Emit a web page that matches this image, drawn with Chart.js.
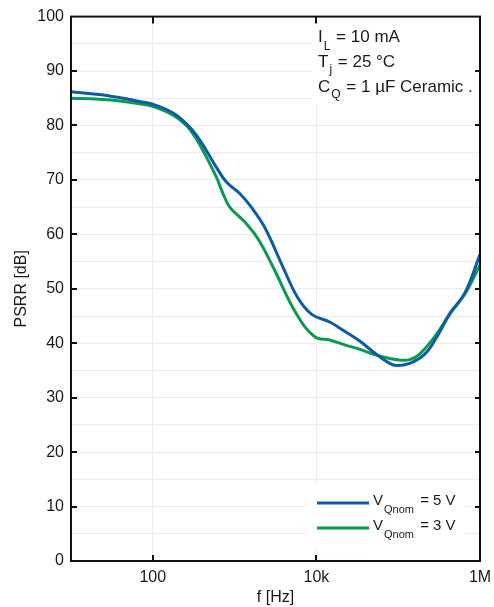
<!DOCTYPE html>
<html>
<head>
<meta charset="utf-8">
<title>PSRR vs frequency</title>
<script src="https://cdn.jsdelivr.net/npm/chart.js@4.4.1/dist/chart.umd.min.js"></script>
<style>
	html, body { margin: 0; padding: 0; background: #fff; }
	#wrap { width: 494px; height: 607px; }
</style>
</head>
<body>
<div id="wrap"><canvas id="chart" width="494" height="607"></canvas></div>
<script>
// V_Qnom = 5 V curve
const freq5V = [10, 22, 40, 69, 100, 177, 258, 342, 452, 599, 795, 1155, 1600, 2330, 3900, 5900, 8770, 14550, 22180, 33840, 51600, 78700, 95900, 138300, 211000, 295700, 426500, 650600, 1000000];
const psrr5V = [86.2, 85.7, 85.1, 84.4, 83.9, 82.3, 80.3, 78.2, 75.4, 72.3, 69.6, 67.5, 65.0, 61.3, 54.0, 48.4, 45.3, 43.9, 42.2, 40.4, 38.2, 36.3, 35.9, 36.3, 38.0, 41.1, 45.4, 49.2, 56.3];

// V_Qnom = 3 V curve
const freq3V = [10, 22, 40, 69, 100, 177, 258, 342, 452, 599, 721, 871, 1150, 1330, 1930, 2950, 5690, 9530, 14550, 22180, 33840, 51600, 78700, 104200, 138300, 183000, 295700, 426500, 650600, 1000000];
const psrr3V = [85.0, 84.8, 84.5, 84.0, 83.5, 81.9, 80.0, 77.5, 74.2, 70.5, 67.5, 65.0, 63.2, 62.3, 59.2, 54.0, 45.4, 41.2, 40.6, 39.7, 38.9, 37.9, 37.2, 36.9, 37.0, 38.0, 41.7, 45.4, 49.0, 54.4];

const xTickValues = [100, 10000, 1000000];
const xTickLabels = ['100', '10k', '1M'];
const yMajorTicks = [10, 20, 30, 40, 50, 60, 70, 80, 90];

const COLOR_5V = '#0c5ba8';
const COLOR_3V = '#0a9a50';
const FONT = '"Liberation Sans", Arial, sans-serif';
const TEXT_COLOR = '#1a1a1a';

function toPoints(xs, ys)
{
	return xs.map((x, i) => ({x: x, y: ys[i]}));
}

// text with a subscript part: main + sub + rest
function drawSubText(ctx, x, y, main, sub, rest, size, subSize, subDrop, gap)
{
	ctx.font = size + 'px ' + FONT;
	ctx.fillText(main, x, y);
	let w = ctx.measureText(main).width + 1;
	ctx.font = subSize + 'px ' + FONT;
	ctx.fillText(sub, x + w, y + subDrop);
	w += ctx.measureText(sub).width + gap;
	ctx.font = size + 'px ' + FONT;
	ctx.fillText(rest, x + w, y);
}

const framePlugin = {
	id: 'frame',
	beforeDatasetsDraw(chart)
	{
		const ctx = chart.ctx;
		ctx.save();
		ctx.fillStyle = '#fff';
		// boxes behind the notes and the legend
		ctx.fillRect(312, 17, 167, 88);
		ctx.fillRect(307, 483, 158, 66);
		ctx.restore();
	},
	afterDraw(chart)
	{
		const ctx = chart.ctx;
		const a = chart.chartArea;
		const xs = chart.scales.x;
		const ys = chart.scales.y;

		ctx.save();
		ctx.strokeStyle = '#111';
		ctx.lineWidth = 2;
		ctx.strokeRect(a.left, a.top, a.right - a.left, a.bottom - a.top);

		// inward tick marks
		ctx.beginPath();
		yMajorTicks.forEach(v => {
			const py = Math.round(ys.getPixelForValue(v));
			ctx.moveTo(a.left, py);
			ctx.lineTo(a.left + 6, py);
			ctx.moveTo(a.right, py);
			ctx.lineTo(a.right - 5, py);
		});
		[100, 10000].forEach(v => {
			const px = Math.round(xs.getPixelForValue(v));
			ctx.moveTo(px, a.bottom);
			ctx.lineTo(px, a.bottom - 6);
			ctx.moveTo(px, a.top);
			ctx.lineTo(px, a.top + 7);
		});
		ctx.stroke();

		// notes, top right
		ctx.fillStyle = TEXT_COLOR;
		ctx.textBaseline = 'alphabetic';
		ctx.textAlign = 'left';
		drawSubText(ctx, 318, 42, 'I', 'L', ' = 10 mA', 17, 12, 8, 1);
		drawSubText(ctx, 318, 67, 'T', 'j', ' = 25 °C', 17, 12, 6, 1);
		drawSubText(ctx, 318, 92, 'C', 'Q', ' = 1 µF Ceramic .', 17, 12, 6, 1);

		// legend
		const legendRows = [
			{color: COLOR_5V, y: 503, text: ' = 5 V'},
			{color: COLOR_3V, y: 528, text: ' = 3 V'},
		];
		legendRows.forEach(row => {
			ctx.strokeStyle = row.color;
			ctx.lineWidth = 3;
			ctx.beginPath();
			ctx.moveTo(317, row.y);
			ctx.lineTo(369, row.y);
			ctx.stroke();
			ctx.fillStyle = TEXT_COLOR;
			drawSubText(ctx, 373, row.y + 1.5, 'V', 'Qnom', row.text, 15, 11, 8.5, 2);
		});
		ctx.restore();
	}
};

Chart.defaults.font.family = FONT;
Chart.defaults.font.size = 16;
Chart.defaults.color = TEXT_COLOR;

const chart = new Chart(document.getElementById('chart'), {
	type: 'line',
	data: {
		datasets: [
			{
				label: 'VQnom = 5 V',
				data: toPoints(freq5V, psrr5V),
				borderColor: COLOR_5V,
				borderWidth: 3,
				pointRadius: 0,
				tension: 0.4,
			},
			{
				label: 'VQnom = 3 V',
				data: toPoints(freq3V, psrr3V),
				borderColor: COLOR_3V,
				borderWidth: 3,
				pointRadius: 0,
				tension: 0.4,
			},
		]
	},
	options: {
		responsive: false,
		animation: false,
		layout: {padding: {top: 16, right: 14, left: 0, bottom: 0}},
		plugins: {
			legend: {display: false},
			tooltip: {enabled: false},
		},
		scales: {
			x: {
				type: 'logarithmic',
				min: 10,
				max: 1000000,
				afterFit: scale => {
					scale.height = 46;
					// keep the plot edge fixed, "1M" may hang over it
					scale.paddingLeft = 0;
					scale.paddingRight = 0;
				},
				afterBuildTicks: scale => {
					scale.ticks = xTickValues.map(v => ({value: v}));
				},
				ticks: {
					autoSkip: false,
					maxRotation: 0,
					padding: 7,
					font: {size: 16},
					callback: value => {
						const i = xTickValues.indexOf(value);
						return i >= 0 ? xTickLabels[i] : '';
					},
				},
				grid: {color: '#ebebeb', lineWidth: 1, drawTicks: false},
				border: {display: false},
				title: {display: true, text: 'f [Hz]', font: {size: 16}, padding: {top: 0, bottom: 0}},
			},
			y: {
				min: 0,
				max: 100,
				afterFit: scale => { scale.width = 71; },
				ticks: {
					stepSize: 5,
					padding: 7,
					font: {size: 16},
					callback: value => (value % 10 === 0 ? value : ''),
				},
				grid: {color: '#ebebeb', lineWidth: 1, drawTicks: false},
				border: {display: false},
				title: {display: true, text: 'PSRR [dB]', font: {size: 16}, padding: {top: 12, bottom: 0}},
			},
		}
	},
	plugins: [framePlugin],
});
</script>
</body>
</html>
